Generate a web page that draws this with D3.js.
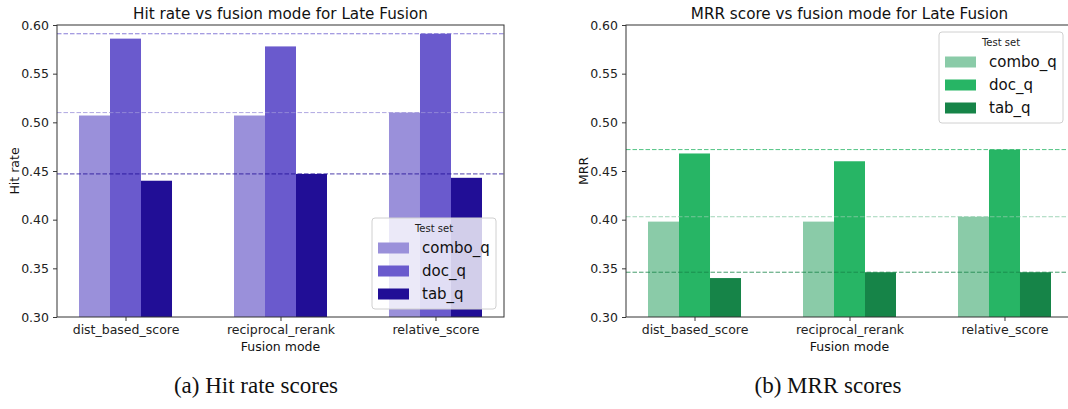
<!DOCTYPE html>
<html>
<head>
<meta charset="utf-8">
<script src="https://cdn.jsdelivr.net/npm/d3@7"></script>
<style>
  body { margin: 0; background: #fff; }
  svg { display: block; font-family: "DejaVu Sans", sans-serif; }
</style>
</head>
<body>
<svg id="fig" width="1068" height="409"></svg>
<script>
// values
var modes = ["dist_based_score", "reciprocal_rerank", "relative_score"];
var testSets = ["combo_q", "doc_q", "tab_q"];
var hitCombo = [0.507, 0.507, 0.510];
var hitDoc = [0.586, 0.578, 0.591];
var hitTab = [0.440, 0.447, 0.443];
var mrrCombo = [0.398, 0.398, 0.403];
var mrrDoc = [0.468, 0.460, 0.472];
var mrrTab = [0.340, 0.346, 0.346];
var yTicks = [0.30, 0.35, 0.40, 0.45, 0.50, 0.55, 0.60];

var purples = ["#9a90da", "#6a5acd", "#210e96"];
var greens = ["#8acba8", "#27b565", "#168448"];

var svg = d3.select("#fig");

//one panel = one bar chart with its own legend, dashed max lines and caption
function drawPanel(p) {
  var left = p.left, right = p.left + 447, top = 25, bottom = 317;
  var g = svg.append("g");

  var x = d3.scalePoint().domain(modes).range([left, right]).padding(0.442);
  var xInner = d3.scaleBand().domain(testSets).range([-46.5, 46.5]);
  var y = d3.scaleLinear().domain([0.30, 0.60]).range([bottom, top]);

  //flatten into rows for the bars
  var rows = [];
  modes.forEach(function(m, i) {
    testSets.forEach(function(t, j) {
      rows.push({ mode: m, set: t, k: j, v: p.series[j][i] });
    });
  });

  g.selectAll("rect.bar")
    .data(rows)
    .enter()
    .append("rect")
    .attr("class", "bar")
    .attr("x", function(d) { return x(d.mode) + xInner(d.set); })
    .attr("width", xInner.bandwidth())
    .attr("y", function(d) { return y(d.v); })
    .attr("height", function(d) { return y(0.30) - y(d.v); })
    .attr("fill", function(d) { return p.colors[d.k]; });

  //dashed line at the max of each test set
  g.selectAll("line.maxline")
    .data(p.series)
    .enter()
    .append("line")
    .attr("class", "maxline")
    .attr("x1", left).attr("x2", right)
    .attr("y1", function(s) { return y(d3.max(s)); })
    .attr("y2", function(s) { return y(d3.max(s)); })
    .attr("stroke", function(s, i) { return p.colors[i]; })
    .attr("stroke-opacity", 0.8)
    .attr("stroke-width", 1)
    .attr("stroke-dasharray", "4.5,2");

  //axes
  var yAxis = d3.axisLeft(y).tickValues(yTicks).tickFormat(d3.format(".2f")).tickSize(4).tickPadding(4);
  var gy = g.append("g").attr("transform", "translate(" + left + ",0)").call(yAxis);
  var xAxis = d3.axisBottom(x).tickSize(4).tickPadding(4);
  var gx = g.append("g").attr("transform", "translate(0," + bottom + ")").call(xAxis);
  [gx, gy].forEach(function(a) {
    a.select(".domain").remove();
    a.selectAll("line").attr("stroke", "#222").attr("stroke-width", 0.9);
    a.selectAll("text").attr("fill", "#222").style("font-size", "12.5px").style("font-family", "DejaVu Sans");
  });

  //frame
  g.append("rect")
    .attr("x", left).attr("y", top)
    .attr("width", right - left).attr("height", bottom - top)
    .attr("fill", "none").attr("stroke", "#333").attr("stroke-width", 1);

  //titles and labels
  var cx = (left + right) / 2;
  g.append("text").attr("x", cx).attr("y", 19).attr("text-anchor", "middle")
    .style("font-size", "15.2px").attr("fill", "#111").text(p.title);
  g.append("text").attr("x", cx).attr("y", 351).attr("text-anchor", "middle")
    .style("font-size", "12.5px").attr("fill", "#111").text("Fusion mode");
  g.append("text")
    .attr("transform", "translate(" + (left - 38) + "," + ((top + bottom) / 2) + ") rotate(-90)")
    .attr("text-anchor", "middle").style("font-size", "12.5px").attr("fill", "#111").text(p.ylabel);

  //legend
  var lg = g.append("g").attr("transform", "translate(" + p.legend[0] + "," + p.legend[1] + ")");
  lg.append("rect").attr("width", 124).attr("height", 91).attr("rx", 3)
    .attr("fill", "#fff").attr("fill-opacity", 0.8)
    .attr("stroke", "#d0d0d0").attr("stroke-width", 1);
  lg.append("text").attr("x", 62).attr("y", 14).attr("text-anchor", "middle")
    .style("font-size", "10px").attr("fill", "#222").text("Test set");
  var item = lg.selectAll("g.item").data(testSets).enter().append("g")
    .attr("transform", function(d, i) { return "translate(0," + (30 + i * 23) + ")"; });
  item.append("rect").attr("x", 6).attr("y", -5.5).attr("width", 31).attr("height", 11)
    .attr("fill", function(d, i) { return p.colors[i]; });
  item.append("text").attr("x", 50).attr("dy", "0.36em")
    .style("font-size", "15px").attr("fill", "#111").text(function(d) { return d; });

  //caption under the panel
  svg.append("text").attr("x", p.captionX).attr("y", 393).attr("text-anchor", "middle")
    .style("font-family", "Liberation Serif, serif").style("font-size", "23px").attr("fill", "#111")
    .text(p.caption);
}

drawPanel({
  left: 57,
  series: [hitCombo, hitDoc, hitTab],
  colors: purples,
  title: "Hit rate vs fusion mode for Late Fusion",
  ylabel: "Hit rate",
  legend: [372, 218],
  caption: "(a) Hit rate scores",
  captionX: 256
});

drawPanel({
  left: 626,
  series: [mrrCombo, mrrDoc, mrrTab],
  colors: greens,
  title: "MRR score vs fusion mode for Late Fusion",
  ylabel: "MRR",
  legend: [939, 32],
  caption: "(b) MRR scores",
  captionX: 828
});
</script>
</body>
</html>
